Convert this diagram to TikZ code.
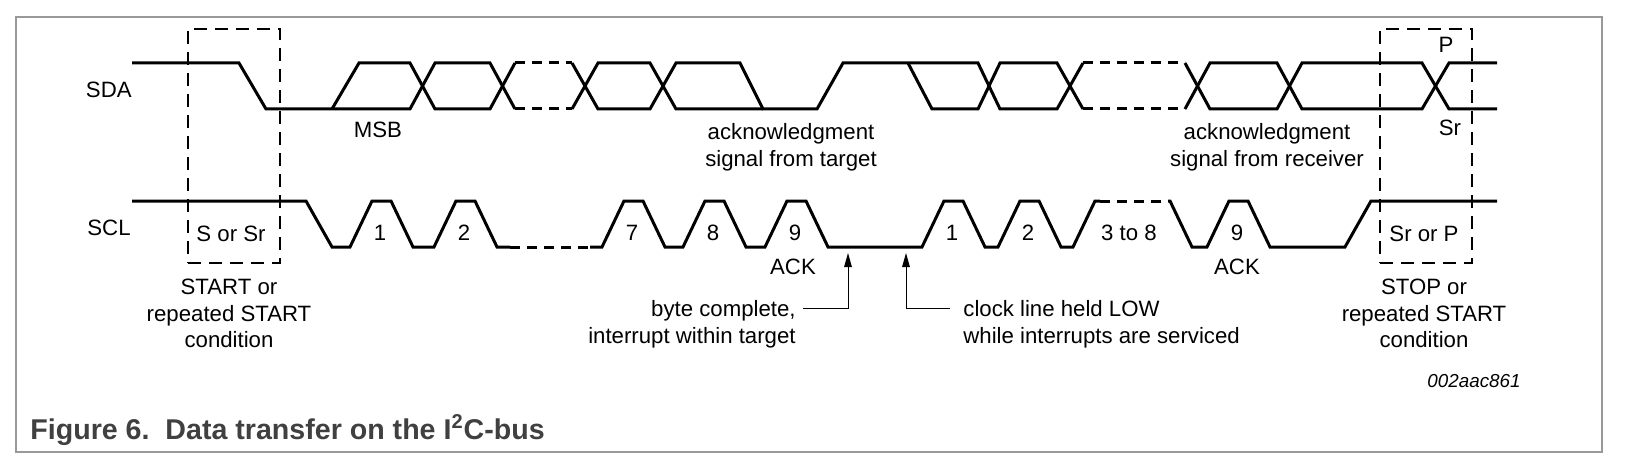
\documentclass[tikz,border=0pt]{standalone}
\usepackage{fontspec}
\setmainfont{Liberation Sans}
\usetikzlibrary{arrows.meta,calc,positioning}
\begin{document}
\begin{tikzpicture}[x=0.5pt,y=-0.5pt,
		sig/.style={line width=1.5pt},
		sigdash/.style={sig, dash pattern=on 5pt off 3.5pt},
		condbox/.style={draw, dash pattern=on 6.5pt off 4pt, line width=0.7pt, minimum width=46pt, minimum height=117pt, inner sep=0pt},
		lbl/.style={inner sep=0pt, font=\fontsize{11.1}{13.3}\selectfont},
		note/.style={lbl, align=center},
		pointer/.style={line width=0.5pt, -{Triangle[length=7pt,width=3.8pt]}}]
		\useasboundingbox (0,0) rectangle (1628,476);
		\draw[black!40, line width=1pt] (16,17) rectangle (1602,452);
		\draw[sig] (132,63) -- (239,63) -- (266,109) -- (410,109) -- (435,63) -- (490,63) -- (515,109);
		\draw[sig] (332,109) -- (359,63) -- (410,63) -- (435,109) -- (490,109) -- (515,63);
		\draw[sigdash] (515,63) -- (572,63) (515,109) -- (572,109);
		\draw[sig] (572,63) -- (598,109) -- (650,109) -- (676,63) -- (740,63) -- (763,109) -- (817,109) -- (843,63) -- (978,63) -- (1000,109) -- (1057,109) -- (1083,63);
		\draw[sig] (572,109) -- (598,63) -- (650,63) -- (676,109) -- (763,109);
		\draw[sig] (908,63) -- (932,109) -- (978,109) -- (1000,63) -- (1057,63) -- (1083,109);
		\draw[sigdash] (1083,63) -- (1185,63) (1083,109) -- (1185,109);
		\draw[sig] (1185,63) -- (1210,109) -- (1277,109) -- (1302,63) -- (1422,63) -- (1449,109) -- (1497,109);
		\draw[sig] (1185,109) -- (1210,63) -- (1277,63) -- (1302,109) -- (1422,109) -- (1449,63) -- (1497,63);
		\draw[sig] (132,201) -- (306,201) -- (332,247) \foreach \x in {350,434} { -- (\x,247) -- ++(22,-46) -- ++(19,0) -- ++(22,46) } -- (510,247);
		\draw[sigdash] (510,247) -- (590,247);
		\draw[sig] (590,247) \foreach \x in {602,683,765,922,998} { -- (\x,247) -- ++(22,-46) -- ++(19,0) -- ++(22,46) } -- (1073,247) -- (1095,201) -- (1100,201);
		\draw[sigdash] (1100,201) -- (1168,201);
		\draw[sig] (1168,201) -- (1170,201) -- (1192,247) -- (1207,247) -- ++(22,-46) -- ++(19,0) -- ++(22,46) -- (1345,247) -- (1371,201) -- (1497,201);
		\node[condbox] (startbox) at (234,146) {};
		\node[condbox] (stopbox) at (1426,146) {};
		\node[lbl, anchor=base east] (sda) at (132,98) {SDA};
		\node[lbl, anchor=base east] (scl) at (131,235) {SCL};
		\node[lbl, anchor=base] (msb) at (378,138) {MSB};
		\node[lbl, anchor=base] (startsym) at (231,242) {S or Sr};
		\node[lbl, anchor=base] (stopsym) at (1424,242) {Sr or P};
		\node[lbl, anchor=base] (psym) at (1446,53) {P};
		\node[lbl, anchor=base] (srsym) at (1450,136) {Sr};
		\foreach \x/\n in {350/1,434/2,602/7,683/8,765/9,922/1,998/2,1207/9}
		\node[lbl, anchor=base] (bit\x) at ({\x+30},240) {\n};
		\node[lbl, anchor=base] (bits) at (1129,240) {3 to 8};
		\node[lbl, anchor=base] (acktgt) at (793,274) {ACK};
		\node[lbl, anchor=base] (ackrcv) at (1237,274) {ACK};
		\node[note, anchor=north] (tgtnote) at (791,123) {acknowledgment\\signal from target};
		\node[note, anchor=north] (rcvnote) at (1267,123) {acknowledgment\\signal from receiver};
		\node[note, below=7.5pt of startbox, xshift=-2.5pt] (startcond) {START or\\repeated START\\condition};
		\node[note, below=7.5pt of stopbox, xshift=-1pt] (stopcond) {STOP or\\repeated START\\condition};
		\node[lbl, align=right, anchor=north east] (bytenote) at (796,300) {byte complete,\\interrupt within target};
		\node[lbl, align=left, anchor=north west] (holdnote) at (963,300) {clock line held LOW\\while interrupts are serviced};
		\coordinate (bytept) at (848,253);
		\coordinate (holdpt) at (906,253);
		\draw[pointer] ($(bytenote.north east)+(7,8)$) -| (bytept);
		\draw[pointer] ($(holdnote.north west)+(-13,8)$) -| (holdpt);
		\node[lbl, anchor=base, font=\itshape\fontsize{9.4}{11}\selectfont] (code) at (1474,387) {002aac861};
		\node[anchor=base west, inner sep=0pt, text=black!75, font=\bfseries\fontsize{14.3}{17}\selectfont] (caption) at (30,439) {Figure 6.\ \ Data transfer on the I\textsuperscript{2}C-bus};
	\end{tikzpicture}
\end{document}
